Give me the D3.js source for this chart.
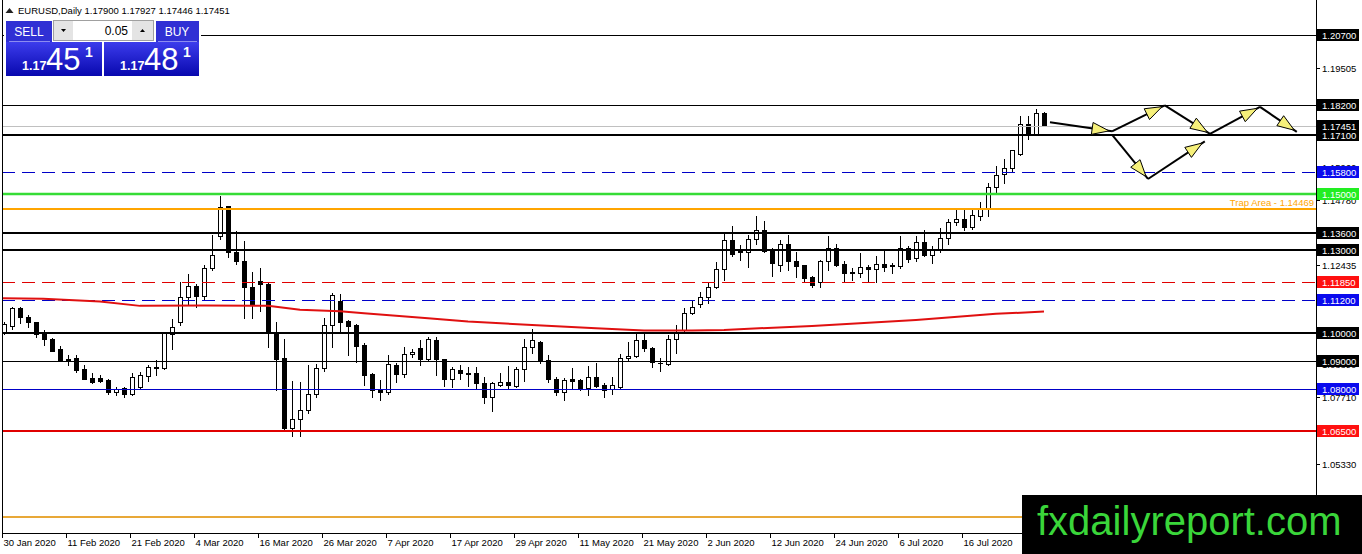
<!DOCTYPE html>
<html>
<head>
<meta charset="utf-8">
<script src="https://cdn.jsdelivr.net/npm/d3@7"></script>
<style>
  body { margin: 0; background: #fff; overflow: hidden; }
  svg { display: block; font-family: "Liberation Sans", Arial, sans-serif; }
</style>
</head>
<body>
<svg id="chart" width="1362" height="554"></svg>
<script>
// ---- data ----
const symbol = "EURUSD";
const timeframe = "Daily";
const bid = 1.17451;
const ask = 1.17481;
const lotSize = 0.05;

const opens = [1.10066,1.10281,1.10904,1.10605,1.10401,1.09982,1.09802,1.09431,1.09084,1.09120,
  1.08725,1.08402,1.08402,1.08330,1.07899,1.08031,1.07815,1.08067,1.08486,1.08761,
  1.08773,1.09982,1.10401,1.11299,1.11706,1.11323,1.12340,1.13477,1.14554,1.12927,
  1.12604,1.11658,1.11873,1.11766,1.10042,1.09108,1.06595,1.06942,1.07253,1.07815,
  1.08749,1.10305,1.11179,1.10449,1.10305,1.09587,1.08546,1.07995,1.07887,1.08869,
  1.08534,1.09252,1.09467,1.09072,1.09766,1.09084,1.08354,1.08689,1.08582,1.08570,
  1.08210,1.07732,1.08151,1.08246,1.08127,1.08713,1.09503,1.09707,1.09048,1.08366,
  1.07887,1.08366,1.08330,1.08031,1.08426,1.08151,1.07995,1.08091,1.09108,1.09204,
  1.09766,1.09467,1.08952,1.08905,1.09790,1.10125,1.10748,1.11047,1.11322,1.11657,
  1.12304,1.13357,1.12938,1.12914,1.13381,1.13716,1.12974,1.12435,1.13213,1.12603,
  1.12435,1.12016,1.11837,1.12579,1.13058,1.12495,1.12184,1.12160,1.12376,1.12304,
  1.12495,1.12399,1.12399,1.13058,1.12699,1.13273,1.12794,1.12974,1.13417,1.13991,
  1.14099,1.13800,1.14219,1.14458,1.15248,1.15727,1.15930,1.16445,1.17522,1.17127,
  1.17900];
const highs = [1.10425,1.10964,1.10940,1.10664,1.10425,1.10126,1.09826,1.09551,1.09228,1.09228,
  1.08869,1.08569,1.08510,1.08354,1.08091,1.08091,1.08593,1.08629,1.08857,1.09048,
  1.10066,1.10509,1.11837,1.12137,1.11778,1.12448,1.13537,1.14937,1.14578,1.13657,
  1.13322,1.12197,1.12340,1.11837,1.10425,1.09791,1.08282,1.08258,1.08857,1.08893,
  1.10545,1.11466,1.11406,1.10485,1.10341,1.09647,1.08570,1.08330,1.09228,1.08929,
  1.09503,1.09431,1.09766,1.09862,1.09862,1.09096,1.08809,1.08869,1.08785,1.08809,
  1.08426,1.08270,1.08570,1.08845,1.08785,1.09802,1.10149,1.09731,1.09228,1.08426,
  1.08390,1.08749,1.08354,1.08833,1.08952,1.08234,1.08450,1.09264,1.09707,1.09982,
  1.10066,1.09503,1.09108,1.09946,1.10305,1.10903,1.11203,1.11502,1.11801,1.12555,
  1.13596,1.13836,1.13177,1.13537,1.14219,1.14015,1.13058,1.13333,1.13537,1.12926,
  1.12459,1.12064,1.12639,1.13477,1.13213,1.12579,1.12340,1.12878,1.12459,1.12759,
  1.12974,1.12519,1.13477,1.13118,1.13477,1.13716,1.13118,1.13776,1.14111,1.14458,
  1.14434,1.14434,1.14698,1.15392,1.16014,1.16254,1.16589,1.17809,1.17786,1.18049,
  1.17927];
const lows = [1.09982,1.10150,1.10389,1.10245,1.09886,1.09587,1.09370,1.09012,1.08869,1.08629,
  1.08354,1.08234,1.08258,1.07827,1.07791,1.07731,1.07791,1.08031,1.08282,1.08510,
  1.08737,1.09455,1.10317,1.11035,1.10964,1.11203,1.12256,1.13381,1.12735,1.12472,
  1.10545,1.10545,1.10820,1.09527,1.07971,1.06535,1.06319,1.06319,1.07134,1.07708,
  1.08665,1.09503,1.10066,1.09228,1.08988,1.08151,1.07708,1.07612,1.07827,1.08270,
  1.08450,1.09168,1.08869,1.09024,1.08510,1.08115,1.08091,1.08366,1.08115,1.07995,
  1.07516,1.07229,1.08115,1.08055,1.08091,1.08306,1.09312,1.08929,1.08270,1.07792,
  1.07612,1.08031,1.07971,1.07792,1.08067,1.07708,1.07827,1.08055,1.09048,1.09144,
  1.09383,1.08809,1.08665,1.08869,1.09312,1.10006,1.10688,1.10963,1.11107,1.11622,
  1.11921,1.12759,1.12639,1.12376,1.13213,1.12902,1.12076,1.12220,1.12256,1.12040,
  1.11861,1.11657,1.11657,1.12280,1.12423,1.11837,1.11921,1.12040,1.11837,1.11837,
  1.12220,1.12160,1.12340,1.12543,1.12579,1.12759,1.12519,1.12902,1.13213,1.13896,
  1.13692,1.13740,1.14051,1.14195,1.15033,1.15392,1.15811,1.16409,1.16972,1.17103,
  1.17446];
const closes = [1.10341,1.10904,1.10581,1.10401,1.09982,1.09791,1.09384,1.09048,1.09060,1.08689,
  1.08378,1.08258,1.08294,1.07887,1.08019,1.07815,1.08426,1.08510,1.08785,1.08785,
  1.10006,1.10221,1.11299,1.11682,1.11323,1.12340,1.12807,1.14531,1.12915,1.12592,
  1.11658,1.11035,1.11778,1.10006,1.09096,1.06595,1.06918,1.07253,1.07827,1.08773,
  1.10305,1.11371,1.10425,1.10281,1.09551,1.08510,1.07971,1.07887,1.08893,1.08534,
  1.09252,1.09336,1.09084,1.09802,1.09072,1.08354,1.08725,1.08570,1.08558,1.08210,
  1.07732,1.08210,1.08246,1.08151,1.08725,1.09503,1.09766,1.09024,1.08354,1.07887,
  1.08330,1.08306,1.08031,1.08426,1.08115,1.07971,1.08139,1.09108,1.09192,1.09766,
  1.09467,1.08964,1.08929,1.09790,1.10030,1.10748,1.10963,1.11322,1.11657,1.12304,
  1.13357,1.12854,1.12914,1.13381,1.13716,1.12938,1.12519,1.13213,1.12579,1.12399,
  1.12004,1.11741,1.12579,1.13058,1.12459,1.12160,1.12160,1.12376,1.12304,1.12495,
  1.12376,1.12459,1.13058,1.12675,1.13273,1.12794,1.12974,1.13417,1.13991,1.14099,
  1.13800,1.14255,1.14458,1.15248,1.15667,1.15930,1.16565,1.17522,1.17127,1.17905,
  1.17451];

// moving average, points: [bar, price]
const maPoints = [[-0.5,1.11264],[4.9,1.11239],[12,1.11142],[17,1.10987],[25,1.10998],
  [33,1.10987],[37,1.10844],[42,1.10797],[45,1.10725],[53,1.10545],[58,1.10423],
  [66,1.10305],[74,1.10186],[80,1.10100],[86,1.10100],[90,1.10125],[101,1.10269],
  [114,1.10484],[124,1.10700],[130,1.10782]];

const dateLabels = ["30 Jan 2020","11 Feb 2020","21 Feb 2020","4 Mar 2020","16 Mar 2020",
  "26 Mar 2020","7 Apr 2020","17 Apr 2020","29 Apr 2020","11 May 2020","21 May 2020",
  "2 Jun 2020","12 Jun 2020","24 Jun 2020","6 Jul 2020","16 Jul 2020"];
const dateLabelBars = [0,8,16,24,32,40,48,56,64,72,80,88,96,104,112,120];

// scale ticks that show (the others sit fully under the level boxes)
const priceTicks = [1.19505,1.15960,1.14780,1.12435,1.08890,1.07710,1.05330,1.04145];

const levelPrices = [1.20700,1.18200,1.17100,1.15800,1.15000,1.14469,1.13600,
  1.13000,1.11850,1.11200,1.10000,1.09000,1.08000,1.06500,1.03400];
const trapLevel = 1.14469;
const trapText = "Trap Area - 1.14469";

// projected path arrows: [from, to] as [bar, price]
const arrowSegments = [
  [[130.75,1.17569],[138.5,1.17246]],
  [[138.5,1.17246],[145.1,1.18179]],
  [[145.1,1.18179],[150.75,1.17152]],
  [[150.75,1.17152],[157,1.18122]],
  [[157,1.18122],[161.6,1.17224]],
  [[138.5,1.17127],[143,1.15537]],
  [[143,1.15537],[150.1,1.16887]]
];

const brandText = "fxdailyreport.com";

// ---- layout ----
const width = 1362, height = 554;
const plotLeft = 2, plotRight = 1316, plotBottom = 533;

const svg = d3.select("#chart");
const defs = svg.append("defs");
defs.append("clipPath").attr("id", "plotClip")
  .append("rect").attr("x", plotLeft + 1).attr("y", 0)
  .attr("width", plotRight - plotLeft - 1).attr("height", plotBottom);

const x = d3.scaleLinear().domain([0, 130]).range([4, 1044]);
const y = d3.scaleLinear().domain([1.065, 1.207]).range([431, 35]);

const px = (i) => Math.round(x(i)) + 0.5;
const fmt = (v) => v.toFixed(5);

const bars = opens.map((o, i) => ({ i, o, h: highs[i], l: lows[i], c: closes[i] }));

// ---- candles ----
const plot = svg.append("g").attr("clip-path", "url(#plotClip)");

const candle = plot.selectAll("g.candle").data(bars).join("g").attr("class", "candle");

candle.append("line")
  .attr("x1", (d) => px(d.i)).attr("x2", (d) => px(d.i))
  .attr("y1", (d) => Math.round(y(d.h)))
  .attr("y2", (d) => Math.round(y(d.l)) + 1)
  .attr("stroke", "#000").attr("stroke-width", 1);

candle.append("rect")
  .attr("x", (d) => (d.c > d.o ? px(d.i) - 2 : px(d.i) - 2.5))
  .attr("width", (d) => (d.c > d.o ? 4 : 5))
  .attr("y", (d) => {
    const top = Math.round(y(Math.max(d.o, d.c)));
    return d.c > d.o ? top + 0.5 : top;
  })
  .attr("height", (d) => {
    const top = Math.round(y(Math.max(d.o, d.c)));
    const bot = Math.round(y(Math.min(d.o, d.c)));
    return d.c > d.o ? Math.max(bot - top, 1) : Math.max(bot - top + 1, 1);
  })
  .attr("fill", (d) => (d.c > d.o ? "#fff" : "#000"))
  .attr("stroke", (d) => (d.c > d.o ? "#000" : "none"))
  .attr("stroke-width", 1);

// ---- horizontal levels ----
const BLUE = "#0000c8", RED = "#e00000";
const levelStyle = {
  "1.20700": { color: "#000", w: 1 },
  "1.18200": { color: "#000", w: 1 },
  "1.17100": { color: "#000", w: 2 },
  "1.15800": { color: BLUE, w: 1, dash: "13,7", box: "#0a0aee" },
  "1.15000": { color: "#35dc35", w: 2.5, box: "#22ee22" },
  "1.14469": { color: "#ffa500", w: 2, box: null },
  "1.13600": { color: "#000", w: 2 },
  "1.13000": { color: "#000", w: 2 },
  "1.11850": { color: RED, w: 1, dash: "13,7", box: "#ff1010" },
  "1.11200": { color: BLUE, w: 1, dash: "13,7", box: "#0a0aee" },
  "1.10000": { color: "#000", w: 2 },
  "1.09000": { color: "#000", w: 1 },
  "1.08000": { color: BLUE, w: 1, box: "#0a0aee" },
  "1.06500": { color: RED, w: 2, box: "#ff1010" },
  "1.03400": { color: "#e8a838", w: 2, box: null }
};
const styleOf = (p) => levelStyle[fmt(p)];
const lineY = (p, w) => (w % 2 === 1 ? Math.round(y(p)) + 0.5 : Math.round(y(p)));

// current price line
plot.append("line")
  .attr("x1", plotLeft).attr("x2", plotRight)
  .attr("y1", lineY(bars[bars.length - 1].c, 1)).attr("y2", lineY(bars[bars.length - 1].c, 1))
  .attr("stroke", "#c0c0c0").attr("stroke-width", 1);

plot.selectAll("line.level").data(levelPrices).join("line")
  .attr("class", "level")
  .attr("x1", plotLeft).attr("x2", plotRight)
  .attr("y1", (d) => lineY(d, styleOf(d).w)).attr("y2", (d) => lineY(d, styleOf(d).w))
  .attr("stroke", (d) => styleOf(d).color)
  .attr("stroke-width", (d) => styleOf(d).w)
  .attr("stroke-dasharray", (d) => styleOf(d).dash || null);

plot.append("text")
  .attr("x", plotRight - 2).attr("y", Math.round(y(trapLevel)) - 3)
  .attr("text-anchor", "end")
  .attr("font-size", 9.5).attr("fill", "#ffa500")
  .text(trapText);

// ---- moving average ----
plot.append("path")
  .datum(maPoints)
  .attr("d", d3.line().x((d) => x(d[0])).y((d) => y(d[1])))
  .attr("fill", "none").attr("stroke", "#e01010").attr("stroke-width", 2);

// ---- projected path arrows ----
const arrowG = plot.append("g");
arrowSegments.forEach((seg) => {
  const x1 = x(seg[0][0]), y1 = y(seg[0][1]);
  const x2 = x(seg[1][0]), y2 = y(seg[1][1]);
  arrowG.append("line")
    .attr("x1", x1).attr("y1", y1).attr("x2", x2).attr("y2", y2)
    .attr("stroke", "#000").attr("stroke-width", 2);
  const ang = Math.atan2(y2 - y1, x2 - x1);
  const tipX = x2 - 3 * Math.cos(ang), tipY = y2 - 3 * Math.sin(ang);
  const len = 17, half = 6;
  const bx = tipX - len * Math.cos(ang), by = tipY - len * Math.sin(ang);
  const pts = [
    [tipX, tipY],
    [bx - half * Math.sin(ang), by + half * Math.cos(ang)],
    [bx + half * Math.sin(ang), by - half * Math.cos(ang)]
  ];
  arrowG.append("polygon")
    .attr("points", pts.map((p) => p.join(",")).join(" "))
    .attr("fill", "#f6f07a").attr("stroke", "#000").attr("stroke-width", 1);
});

// ---- frame and axes ----
svg.append("line").attr("x1", plotLeft + 0.5).attr("x2", plotLeft + 0.5)
  .attr("y1", 0).attr("y2", plotBottom + 1).attr("stroke", "#000");
svg.append("line").attr("x1", plotLeft).attr("x2", plotRight + 1)
  .attr("y1", plotBottom + 0.5).attr("y2", plotBottom + 0.5).attr("stroke", "#000");
svg.append("line").attr("x1", plotRight + 0.5).attr("x2", plotRight + 0.5)
  .attr("y1", 0).attr("y2", height).attr("stroke", "#000");

// price scale ticks
const yTicks = svg.append("g");
yTicks.selectAll("line").data(priceTicks).join("line")
  .attr("x1", plotRight).attr("x2", plotRight + 4)
  .attr("y1", (d) => Math.round(y(d)) + 0.5).attr("y2", (d) => Math.round(y(d)) + 0.5)
  .attr("stroke", "#000");
yTicks.selectAll("text").data(priceTicks).join("text")
  .attr("x", plotRight + 6).attr("y", (d) => Math.round(y(d)) + 4)
  .attr("font-size", 9.5).attr("fill", "#000")
  .text(fmt);

// level boxes on the price scale
const boxed = levelPrices.filter((p) => styleOf(p).box !== null);
const boxes = svg.append("g");
function priceBox(p, fill, textFill) {
  const cy = Math.round(y(p));
  boxes.append("rect").attr("x", plotRight + 1).attr("y", cy - 6)
    .attr("width", 42).attr("height", 12).attr("fill", fill);
  boxes.append("text").attr("x", plotRight + 6).attr("y", cy + 4)
    .attr("font-size", 9.5).attr("fill", textFill).text(fmt(p));
}
boxed.forEach((p) => priceBox(p, styleOf(p).box || "#000", "#fff"));
priceBox(bars[bars.length - 1].c, "#000", "#fff");

// time scale
const xAxis = svg.append("g");
xAxis.selectAll("line").data(dateLabelBars).join("line")
  .attr("x1", (d) => px(d) - 2).attr("x2", (d) => px(d) - 2)
  .attr("y1", plotBottom).attr("y2", plotBottom + 5)
  .attr("stroke", "#000");
xAxis.selectAll("text").data(dateLabelBars).join("text")
  .attr("x", (d) => px(d) - 1).attr("y", plotBottom + 13)
  .attr("font-size", 9.5).attr("fill", "#000")
  .text((d, i) => dateLabels[i]);

// ---- header ----
const last = bars[bars.length - 1];
svg.append("path").attr("d", "M5.5,13 L9.5,8 L13.5,13 Z").attr("fill", "#222");
svg.append("text").attr("x", 18).attr("y", 14).attr("font-size", 9.5).attr("fill", "#000")
  .text(`${symbol},${timeframe} ${fmt(last.o)} ${fmt(last.h)} ${fmt(last.l)} ${fmt(last.c)}`);

// ---- one click trading panel ----
const grad = defs.append("linearGradient").attr("id", "panelBlue")
  .attr("x1", 0).attr("y1", 0).attr("x2", 0).attr("y2", 1);
grad.append("stop").attr("offset", "0%").attr("stop-color", "#3c3cec");
grad.append("stop").attr("offset", "100%").attr("stop-color", "#0808ae");

const panel = svg.append("g");
panel.append("rect").attr("x", 4).attr("y", 19).attr("width", 197).attr("height", 59).attr("fill", "#fff");
panel.append("rect").attr("x", 6).attr("y", 21).attr("width", 46).attr("height", 21).attr("fill", "#3030d4");
panel.append("rect").attr("x", 156).attr("y", 21).attr("width", 43).attr("height", 21).attr("fill", "#3030d4");
panel.append("line").attr("x1", 9).attr("x2", 50).attr("y1", 41.5).attr("y2", 41.5).attr("stroke", "#8c8cf0");
panel.append("line").attr("x1", 158).attr("x2", 197).attr("y1", 41.5).attr("y2", 41.5).attr("stroke", "#8c8cf0");
panel.append("text").attr("x", 29).attr("y", 36).attr("text-anchor", "middle")
  .attr("font-size", 12).attr("fill", "#fff").text("SELL");
panel.append("text").attr("x", 177).attr("y", 36).attr("text-anchor", "middle")
  .attr("font-size", 12).attr("fill", "#fff").text("BUY");

// lot spinner
panel.append("rect").attr("x", 53.5).attr("y", 20.5).attr("width", 100).attr("height", 20)
  .attr("fill", "#fff").attr("stroke", "#a0a0a0");
panel.append("rect").attr("x", 54).attr("y", 21).attr("width", 19).attr("height", 19).attr("fill", "#e4e4e4");
panel.append("rect").attr("x", 132).attr("y", 21).attr("width", 21).attr("height", 19).attr("fill", "#e4e4e4");
panel.append("path").attr("d", "M61,29 L66,29 L63.5,32 Z").attr("fill", "#000");
panel.append("path").attr("d", "M140,32 L145,32 L142.5,29 Z").attr("fill", "#000");
panel.append("text").attr("x", 128).attr("y", 35).attr("text-anchor", "end")
  .attr("font-size", 12).attr("fill", "#000").text(lotSize.toFixed(2));

// price boxes
function quoteBox(x0, w, price) {
  const s = fmt(price);
  panel.append("rect").attr("x", x0).attr("y", 42).attr("width", w).attr("height", 34)
    .attr("fill", "url(#panelBlue)");
  panel.append("text").attr("x", x0 + 16).attr("y", 70).attr("font-size", 12.5)
    .attr("font-weight", "bold").attr("fill", "#fff").text(s.slice(0, 4));
  panel.append("text").attr("x", x0 + 40).attr("y", 70).attr("font-size", 31)
    .attr("fill", "#fff").text(s.slice(4, 6));
  panel.append("text").attr("x", x0 + 79).attr("y", 57).attr("font-size", 14)
    .attr("font-weight", "bold").attr("fill", "#fff").text(s.slice(6));
}
quoteBox(6, 96, bid);
quoteBox(104, 95, ask);

// ---- brand box ----
svg.append("rect").attr("x", 1022).attr("y", 495).attr("width", 340).attr("height", 59).attr("fill", "#000");
svg.append("text").attr("x", 1037).attr("y", 535).attr("font-size", 40)
  .attr("fill", "#3ad63a").text(brandText);
</script>
</body>
</html>
